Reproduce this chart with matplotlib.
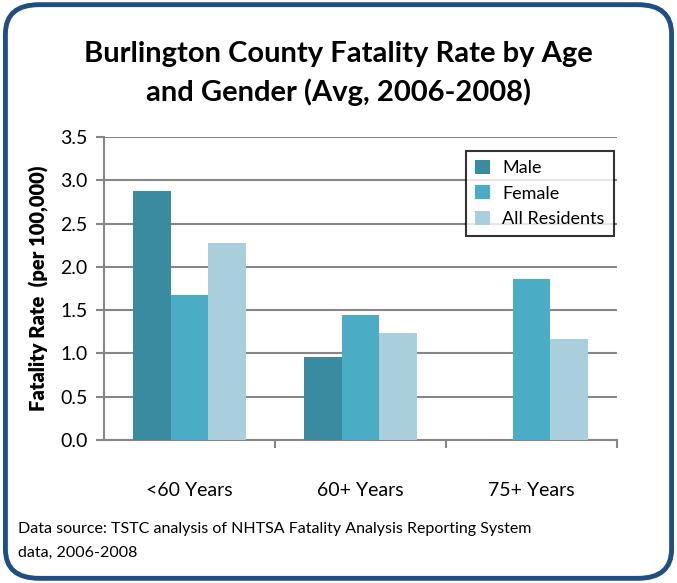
import matplotlib.pyplot as plt
import numpy as np
from matplotlib.patches import FancyBboxPatch

categories = ["<60 Years", "60+ Years", "75+ Years"]
series = ["Male", "Female", "All Residents"]
male = [2.88, 0.96, 0.0]
female = [1.67, 1.44, 1.86]
all_res = [2.28, 1.24, 1.17]
colors = ["#3B8BA0", "#4BACC6", "#A9CFDD"]

plt.rcParams['font.family'] = ['Lato', 'DejaVu Sans']

fig = plt.figure(figsize=(6.77, 5.83), dpi=100, facecolor="white")

# rounded frame round the whole chart
frame = FancyBboxPatch((0.008, 0.008), 0.984, 0.984,
                       boxstyle="round,pad=0,rounding_size=0.05",
                       transform=fig.transFigure, facecolor="white",
                       edgecolor="#1F4E85", linewidth=3.5, zorder=-5)
fig.patches.append(frame)

ax = fig.add_axes([0.1536, 0.2453, 0.758, 0.5197], zorder=2)
ax.set_facecolor("none")

x = np.arange(len(categories))
width = 0.22
for i, (vals, name) in enumerate(zip([male, female, all_res], series)):
    ax.bar(x + (i - 1) * width, vals, width=width, color=colors[i],
           label=name, zorder=3)

ax.set_xlim(-0.5, 2.5)
ax.set_ylim(0, 3.5)
ax.set_yticks(np.arange(0, 3.51, 0.5))
ax.set_yticklabels([f"{v:.1f}" for v in np.arange(0, 3.51, 0.5)], fontsize=14)
ax.yaxis.grid(True, color="#868686", linewidth=1.5, zorder=0)
ax.set_axisbelow(True)

ax.set_xticks(x)
ax.set_xticklabels(categories, fontsize=14)
ax.tick_params(axis='x', length=0, pad=30)
ax.set_xticks([0.5, 1.5, 2.5], minor=True)
ax.tick_params(axis='x', which='minor', length=6, width=1.5, color="#868686")
ax.tick_params(axis='y', length=6, width=1.5, color="#868686", pad=6)

for s in ["top", "right"]:
    ax.spines[s].set_visible(False)
for s in ["left", "bottom"]:
    ax.spines[s].set_color("#868686")
    ax.spines[s].set_linewidth(1.5)

ax.set_ylabel("Fatality Rate  (per 100,000)", fontsize=14.5, weight="heavy",
              labelpad=8)

leg = ax.legend(loc="upper right", bbox_to_anchor=(0.993, 0.953), fontsize=13,
                frameon=True, fancybox=False, handlelength=0.8, handleheight=0.8,
                handletextpad=0.7, borderpad=0.5, labelspacing=0.5,
                borderaxespad=0)
leg.get_frame().set_edgecolor("black")
leg.get_frame().set_linewidth(1.5)
leg._legend_box.align = "left"
leg.get_frame().set_width(leg.get_frame().get_width())

fig.text(0.5, 0.874, "Burlington County Fatality Rate by Age\nand Gender (Avg, 2006-2008)",
         ha="center", va="center", fontsize=21, fontweight="bold",
         linespacing=1.5)

fig.text(0.027, 0.072, "Data source: TSTC analysis of NHTSA Fatality Analysis Reporting System\ndata, 2006-2008",
         ha="left", va="center", fontsize=11.5, linespacing=1.85)

fig.savefig("out.png", dpi=100)
